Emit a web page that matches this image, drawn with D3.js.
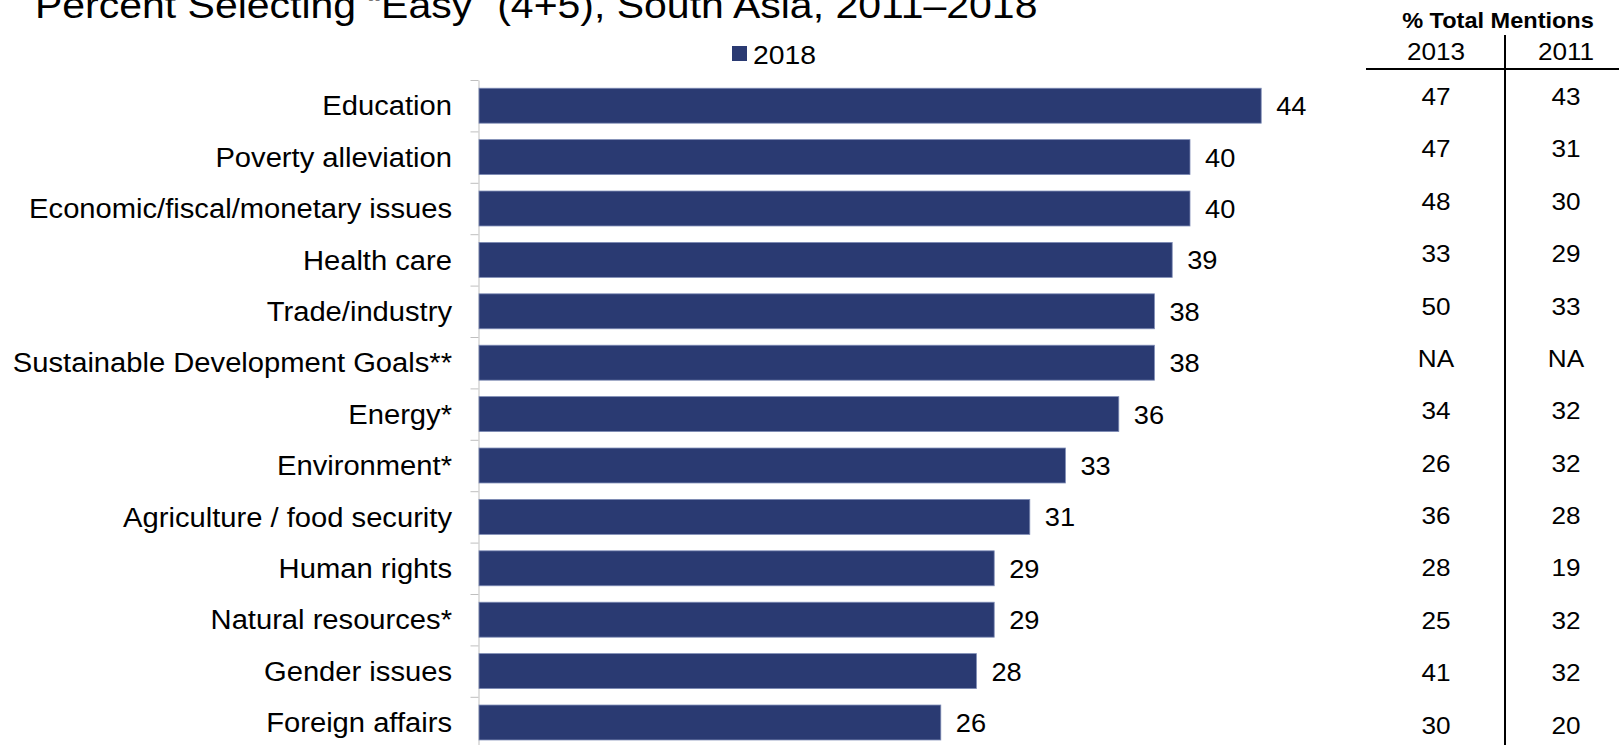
<!DOCTYPE html>
<html>
<head>
<meta charset="utf-8">
<script src="https://cdn.jsdelivr.net/npm/d3@7"></script>
<style>
  body { margin: 0; background: #fff; }
  svg { display: block; font-family: "Liberation Sans", Arial, sans-serif; }
</style>
</head>
<body>
<svg id="chart" width="1619" height="745"></svg>
<script>
// ---- data ----
const titleText = "Percent Selecting \u201CEasy\u201D (4+5), South Asia, 2011\u20132018";
const legendLabel = "2018";
const categories = [
  "Education",
  "Poverty alleviation",
  "Economic/fiscal/monetary issues",
  "Health care",
  "Trade/industry",
  "Sustainable Development Goals**",
  "Energy*",
  "Environment*",
  "Agriculture / food security",
  "Human rights",
  "Natural resources*",
  "Gender issues",
  "Foreign affairs"
];
const values2018 = [44, 40, 40, 39, 38, 38, 36, 33, 31, 29, 29, 28, 26];
const tableTitle = "% Total Mentions";
const tableYears = ["2013", "2011"];
const mentions2013 = ["47", "47", "48", "33", "50", "NA", "34", "26", "36", "28", "25", "41", "30"];
const mentions2011 = ["43", "31", "30", "29", "33", "NA", "32", "32", "28", "19", "32", "32", "20"];

// ---- layout ----
const svg = d3.select("#chart");
const barColor = "#2a3a72";
const stretch = 1.09;

const x = d3.scaleLinear().domain([0, 50]).range([478, 1368]);
const y = d3.scaleBand()
  .domain(categories)
  .range([80, 748.2])
  .paddingInner(0.32)
  .paddingOuter(0.16);
const yEdge = d3.scaleLinear().domain([0, categories.length]).range([80, 748.2]);

// text helper: places text at (px, py) with a slight horizontal stretch
function label(g, px, py, str, size, anchor, weight, sx) {
  return g.append("text")
    .attr("transform", `translate(${px},${py}) scale(${sx || stretch},1)`)
    .attr("text-anchor", anchor || "start")
    .attr("font-size", size)
    .attr("font-weight", weight || "normal")
    .attr("fill", "#000")
    .text(str);
}

// title
label(svg, 35, 18, titleText, 37.6, "start");

// legend
const legend = svg.append("g");
legend.append("rect")
  .attr("x", 732).attr("y", 46).attr("width", 15).attr("height", 15)
  .attr("fill", barColor);
label(legend, 753, 64, legendLabel, 26, "start");

// category axis: line with ticks on the band edges
svg.append("g")
  .attr("transform", "translate(478.5,0)")
  .call(d3.axisLeft(yEdge)
    .tickValues(d3.range(0, categories.length + 1))
    .tickSize(8)
    .tickSizeOuter(0)
    .tickFormat(""))
  .call(g => g.selectAll("path, line").attr("stroke", "#bfbfbf").attr("stroke-width", 1));

// bars
svg.append("g")
  .selectAll("rect")
  .data(categories)
  .join("rect")
  .attr("x", x(0) + 1)
  .attr("y", d => y(d))
  .attr("width", (d, i) => x(values2018[i]) - x(0) - 1)
  .attr("height", y.bandwidth())
  .attr("fill", barColor)
  .attr("stroke", "#7d8bb5")
  .attr("stroke-width", 0.8);

// category labels
const catG = svg.append("g");
categories.forEach(c => {
  label(catG, 452, y(c) + y.bandwidth() / 2 + 9.7, c, 27, "end", "normal", 1.08);
});

// value labels
const valG = svg.append("g");
categories.forEach((c, i) => {
  label(valG, x(values2018[i]) + 15, y(c) + y.bandwidth() / 2 + 9.5, String(values2018[i]), 25, "start");
});

// side table of total mentions
const table = svg.append("g");
const colX = d3.scaleOrdinal().domain(tableYears).range([1436, 1566]);
const rowY = d3.scaleLinear().domain([0, categories.length - 1]).range([105, 733.5]);

label(table, 1498, 28, tableTitle, 22, "middle", "bold", 1.07);
tableYears.forEach(yr => label(table, colX(yr), 60, yr, 24, "middle"));

table.append("line")
  .attr("x1", 1366).attr("x2", 1619).attr("y1", 69).attr("y2", 69)
  .attr("stroke", "#000").attr("stroke-width", 2);
table.append("line")
  .attr("x1", 1505).attr("x2", 1505).attr("y1", 35).attr("y2", 745)
  .attr("stroke", "#000").attr("stroke-width", 2);

[mentions2013, mentions2011].forEach((col, j) => {
  col.forEach((v, i) => {
    label(table, colX(tableYears[j]), rowY(i), v, 24, "middle");
  });
});
</script>
</body>
</html>
